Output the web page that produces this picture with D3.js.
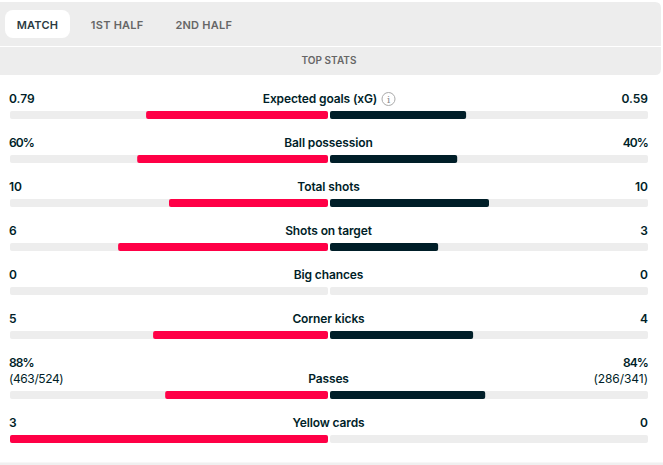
<!DOCTYPE html>
<html><head><meta charset="utf-8">
<script src="https://cdnjs.cloudflare.com/ajax/libs/d3/7.8.5/d3.min.js"></script>
<style>html,body{margin:0;padding:0;background:#fff}svg{display:block;font-family:Inter,Roboto,sans-serif}</style>
</head><body><div id="chart"></div>
<script>
const tabs = ["MATCH","1ST HALF","2ND HALF"];
const sectionTitle = "TOP STATS";
const categories = ["Expected goals (xG)","Ball possession","Total shots","Shots on target","Big chances","Corner kicks","Passes","Yellow cards"];
const homeLabels = ["0.79","60%","10","6","0","5","88%","3"];
const awayLabels = ["0.59","40%","10","3","0","4","84%","0"];
const homeSub = [null,null,null,null,null,null,"(463/524)",null];
const awaySub = [null,null,null,null,null,null,"(286/341)",null];
const homeShare = [57.2,60,50,66,0,55,51.2,100];
const awayShare = [42.8,40,50,34,0,45,48.8,0];

const W=663,H=465;
const svg=d3.select("#chart").append("svg").attr("width",W).attr("height",H);
const grey="#ededed",dark="#001e28",red="#ff0046";

function roundedPath(x0,y0,x1,y1,r){return `M${x0+r},${y0}H${x1-r}Q${x1},${y0} ${x1},${y0+r}V${y1-r}Q${x1},${y1} ${x1-r},${y1}H${x0+r}Q${x0},${y1} ${x0},${y1-r}V${y0+r}Q${x0},${y0} ${x0+r},${y0}Z`;}

svg.append("path").attr("d",`M0,2H655Q661,2 661,8V46H0Z`).attr("fill",grey);
svg.append("path").attr("d",`M0,47H661V69Q661,75 655,75H0Z`).attr("fill",grey);
svg.append("path").attr("d",`M0,462.5H663V465H0Z`).attr("fill","#f0f0f0");
svg.append("rect").attr("x",5).attr("y",10).attr("width",65).attr("height",28).attr("rx",8).attr("fill","#fff");

const tabX=[37.5,117.2,203.8];
svg.selectAll("text.tab").data(tabs).join("text").attr("class","tab")
  .attr("x",(d,i)=>tabX[i]).attr("y",28.5).attr("text-anchor","middle")
  .attr("font-size",11).attr("font-weight",600).attr("letter-spacing",0.25)
  .attr("fill",(d,i)=>i===0?"#2b3a42":"#666").text(d=>d);
svg.append("text").attr("x",329).attr("y",64).attr("text-anchor","middle")
  .attr("font-size",10).attr("font-weight",600).attr("letter-spacing",0.05).attr("fill","#666").text(sectionTitle);

const rowOffset=[0,44,88,132,176,220,280,324];
const y=d3.scaleOrdinal().domain(categories).range(rowOffset.map(d=>111+d));
const homeX=d3.scaleLinear().domain([0,100]).range([328,10]);
const awayX=d3.scaleLinear().domain([0,100]).range([330,648]);

categories.forEach((c,i)=>{
  const by=y(c),h=8;
  const g=svg.append("g");
  g.append("path").attr("d",roundedPath(homeX(100),by,homeX(0),by+h,2)).attr("fill",grey);
  g.append("path").attr("d",roundedPath(awayX(0),by,awayX(100),by+h,2)).attr("fill",grey);
  const hs=homeShare[i],as=awayShare[i];
  if(hs>0)g.append("path").attr("d",roundedPath(homeX(hs),by,homeX(0),by+h,2)).attr("fill",red);
  if(as>0)g.append("path").attr("d",roundedPath(awayX(0),by,awayX(as),by+h,2)).attr("fill",dark);
  const ly=by-8;
  const lx=i===0?320:328.5;
  g.append("text").attr("x",lx).attr("y",ly).attr("text-anchor","middle").attr("font-size",12).attr("font-weight",600).attr("letter-spacing",-0.12).attr("fill",dark).text(c);
  const topY=homeSub[i]?ly-16:ly;
  const sp=d=>d.includes("%")?-0.9:0;
  g.append("text").attr("x",9).attr("y",topY).attr("font-size",12).attr("font-weight",600).attr("letter-spacing",sp(homeLabels[i])).attr("fill",dark).text(homeLabels[i]);
  g.append("text").attr("x",648).attr("y",topY).attr("text-anchor","end").attr("font-size",12).attr("font-weight",600).attr("letter-spacing",sp(awayLabels[i])).attr("fill",dark).text(awayLabels[i]);
  if(homeSub[i]){
    g.append("text").attr("x",9).attr("y",ly).attr("font-size",12).attr("letter-spacing",-0.4).attr("fill",dark).text(homeSub[i]);
    g.append("text").attr("x",648).attr("y",ly).attr("text-anchor","end").attr("font-size",12).attr("letter-spacing",-0.05).attr("fill",dark).text(awaySub[i]);
  }
  if(i===0){
    const ig=g.append("g").attr("transform",`translate(388.5,${ly-4})`);
    ig.append("circle").attr("r",6.5).attr("fill","none").attr("stroke","#aaa").attr("stroke-width",1);
    ig.append("text").attr("y",3.5).attr("text-anchor","middle").attr("font-size",10).attr("font-family","DejaVu Serif").attr("fill","#888").text("i");
  }
});
</script></body></html>
